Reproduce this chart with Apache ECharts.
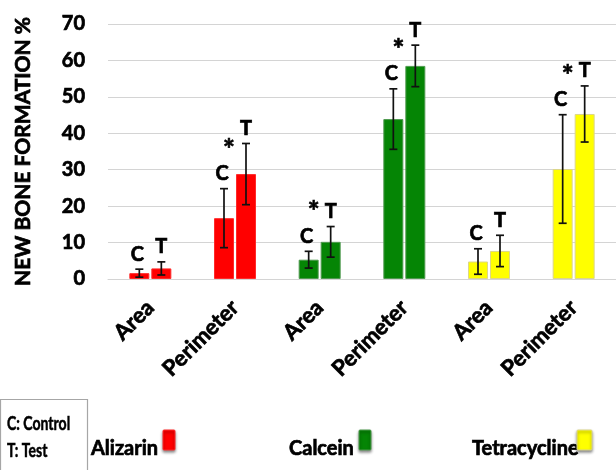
<!DOCTYPE html>
<html>
<head>
<meta charset="utf-8">
<script src="https://cdn.jsdelivr.net/npm/echarts@6/dist/echarts.min.js"></script>
<style>
  html, body { margin: 0; padding: 0; background: #fff; }
  #chart { width: 616px; height: 470px; }
</style>
</head>
<body>
<div id="chart"></div>
<script>
// New bone formation (%) per dye and measurement, control vs test (mean ± SD)
const categories = ['Area', 'Perimeter', 'Area', 'Perimeter', 'Area', 'Perimeter'];
const categoryDye = ['Alizarin', 'Alizarin', 'Calcein', 'Calcein', 'Tetracycline', 'Tetracycline'];
const dyes = ['Alizarin', 'Calcein', 'Tetracycline'];
const controlMean = [1.6, 16.7, 5.3, 43.9, 4.8, 30.2];
const controlErr  = [1.1, 8.1, 2.3, 8.3, 3.5, 14.9];
const testMean    = [2.9, 28.8, 10.2, 58.5, 7.7, 45.3];
const testErr     = [1.8, 8.4, 4.2, 5.7, 4.3, 7.7];
const significant = [false, true, true, true, false, true];
const yTicks = [0, 10, 20, 30, 40, 50, 60, 70];
const keyLines = ['C: Control', 'T: Test'];

// Styling
const FONT = 'Lato, "Open Sans", sans-serif';
const INK = '#000';
const HEAVY = 0.7;   // extra stroke to give the bold text a heavier look
const dyeColor  = { Alizarin: '#ff0000', Calcein: '#058505', Tetracycline: '#ffff00' };
const dyeBorder = { Alizarin: '#ff2a2a', Calcein: '#4f9a4f', Tetracycline: '#dcd68a' };
const BAR_W = 20;
const BAR_GAP = 2;
const HALF_STEP = (BAR_W + BAR_GAP) / 2;
const CAP = 4;
const LABEL_GAP = 5;

const chart = echarts.init(document.getElementById('chart'), null, { renderer: 'canvas' });

function barData(means) {
  return means.map((v, i) => ({
    value: v,
    itemStyle: {
      color: dyeColor[categoryDye[i]],
      borderColor: dyeBorder[categoryDye[i]],
      borderWidth: 1
    }
  }));
}

function heavyText(extra) {
  return Object.assign({ fill: INK, stroke: INK, lineWidth: HEAVY }, extra);
}

// Error bars with the C / T letter above each one, and '*' for significant pairs
function errorSeries(name, means, errs, side, letter) {
  return {
    type: 'custom',
    name: name,
    z: 5,
    data: means.map((m, i) => [i, m, errs[i]]),
    renderItem: function (params, api) {
      const i = api.value(0);
      const m = api.value(1);
      const e = api.value(2);
      const top = api.coord([i, m + e]);
      const bot = api.coord([i, m - e]);
      const x = top[0] + side * HALF_STEP;
      const lineStyle = { stroke: '#111', lineWidth: 1.7 };
      const children = [
        { type: 'line', shape: { x1: x, y1: top[1], x2: x, y2: bot[1] }, style: lineStyle },
        { type: 'line', shape: { x1: x - CAP, y1: top[1], x2: x + CAP, y2: top[1] }, style: lineStyle },
        { type: 'line', shape: { x1: x - CAP, y1: bot[1], x2: x + CAP, y2: bot[1] }, style: lineStyle },
        {
          type: 'text',
          x: x + (side < 0 ? -2 : 0),
          y: top[1] - LABEL_GAP,
          style: heavyText({ text: letter, font: 'bold 20px ' + FONT, align: 'center', verticalAlign: 'bottom' })
        }
      ];
      if (side < 0 && significant[params.dataIndex]) {
        children.push({
          type: 'text',
          x: x + 5,
          y: top[1] - LABEL_GAP - 20,
          style: heavyText({ text: '*', font: 'bold 28px ' + FONT, align: 'center', verticalAlign: 'bottom' })
        });
      }
      return { type: 'group', children: children };
    }
  };
}

// Key at the bottom: letter meanings box and dye swatches
const keyGraphics = [
  {
    type: 'rect',
    shape: { x: 0.5, y: 399.5, width: 87, height: 80 },
    style: { fill: '#fff', stroke: '#a6a6a6', lineWidth: 1.2 }
  }
];
keyLines.forEach((t, k) => {
  keyGraphics.push({
    type: 'text',
    x: 7, y: 424 + k * 27.5,
    scaleX: 0.78,
    style: heavyText({ text: t, font: 'bold 18px ' + FONT, verticalAlign: 'middle', lineWidth: 0.5 })
  });
});
const dyeKeyPos = [
  { tx: 91, sx: 163, sw: 12 },
  { tx: 289, sx: 359, sw: 12 },
  { tx: 472, sx: 577, sw: 15 }
];
dyes.forEach((d, k) => {
  const p = dyeKeyPos[k];
  keyGraphics.push({
    type: 'text',
    x: p.tx, y: 449,
    style: heavyText({ text: d, font: 'bold 20px ' + FONT, verticalAlign: 'middle' })
  });
  keyGraphics.push({
    type: 'rect',
    shape: { x: p.sx, y: 430, width: p.sw, height: 20, r: 1 },
    style: {
      fill: dyeColor[d], stroke: dyeBorder[d], lineWidth: 1,
      shadowBlur: 3, shadowOffsetY: 2, shadowColor: 'rgba(0,0,0,0.45)'
    }
  });
});

const labelInk = { color: INK, fontWeight: 'bold', fontFamily: FONT, textBorderColor: INK, textBorderWidth: HEAVY };

chart.setOption({
  animation: false,
  backgroundColor: '#fff',
  textStyle: { fontFamily: FONT },
  grid: { left: 108, top: 24, width: 515, height: 255, containLabel: false },
  xAxis: {
    type: 'category',
    data: categories,
    axisTick: { show: false },
    axisLine: { lineStyle: { color: '#d4d4d4', width: 1 } },
    axisLabel: Object.assign({
      interval: 0, rotate: 45, margin: 25, fontSize: 22,
      verticalAlign: 'middle', padding: [11, 0, 0, 0]
    }, labelInk)
  },
  yAxis: {
    type: 'value',
    min: yTicks[0],
    max: yTicks[yTicks.length - 1],
    interval: yTicks[1] - yTicks[0],
    name: 'NEW BONE FORMATION %',
    nameLocation: 'middle',
    nameRotate: 90,
    nameGap: 74,
    nameTextStyle: Object.assign({ fontSize: 21 }, labelInk),
    axisLine: { show: false },
    axisTick: { show: false },
    axisLabel: Object.assign({ fontSize: 20, margin: 23 }, labelInk),
    splitLine: { lineStyle: { color: '#d4d4d4', width: 1 } }
  },
  series: [
    { type: 'bar', name: 'Control', barWidth: BAR_W, barGap: (BAR_GAP / BAR_W * 100) + '%', data: barData(controlMean) },
    { type: 'bar', name: 'Test', barWidth: BAR_W, data: barData(testMean) },
    errorSeries('Control SD', controlMean, controlErr, -1, 'C'),
    errorSeries('Test SD', testMean, testErr, 1, 'T')
  ],
  graphic: keyGraphics
});
</script>
</body>
</html>
